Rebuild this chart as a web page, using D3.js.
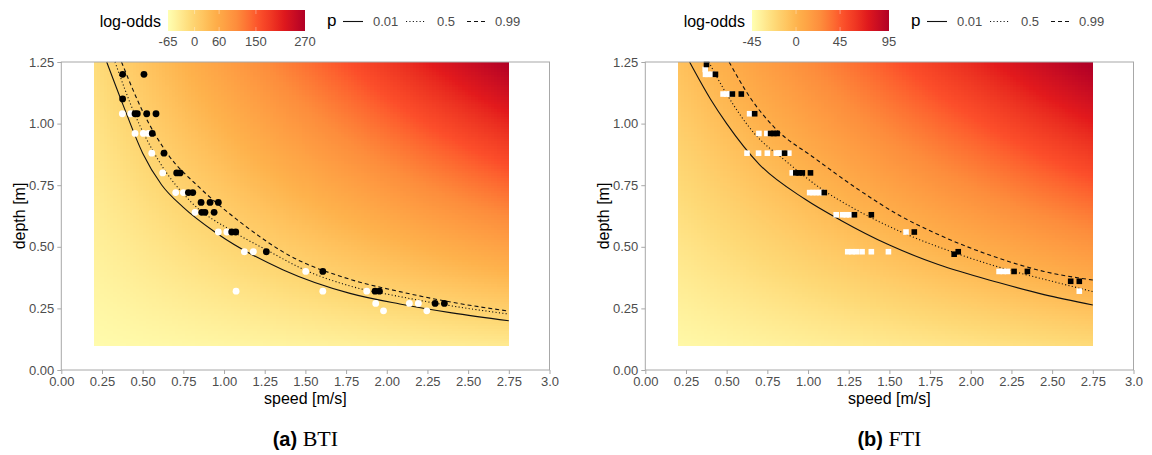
<!DOCTYPE html>
<meta charset="utf-8">
<script src="https://d3js.org/d3.v7.min.js"></script>
<style>
  body { margin: 0; background: #fff; }
  text { font-family: "Liberation Sans", Arial, sans-serif; }
</style>
<body>
<svg id="chart" width="1152" height="455"></svg>
<script>

// axis ticks
var xTicks = [0, 0.25, 0.5, 0.75, 1, 1.25, 1.5, 1.75, 2, 2.25, 2.5, 2.75, 3];
var xTickLabels = ["0.00", "0.25", "0.50", "0.75", "1.00", "1.25", "1.50", "1.75", "2.00", "2.25", "2.50", "2.75", "3.0"];
var yTicks = [0, 0.25, 0.5, 0.75, 1, 1.25];
var yTickLabels = ["0.00", "0.25", "0.50", "0.75", "1.00", "1.25"];

// fill palette (YlOrRd) and legend breaks
var fillColors = ["#ffffb2", "#fed976", "#feb24c", "#fd8d3c", "#fc4e2a", "#e31a1c", "#b10026"];
var btiBreaks = [-65, 0, 60, 150, 270];
var ftiBreaks = [-45, 0, 45, 95];
var pLabels = ["0.01", "0.5", "0.99"];

// fitted log-odds surface: b0 + b1*speed + b2*depth + b3*speed*depth
var btiCoef = [-63.5, 1.37, 21.4, 88];
var ftiCoef = [-44.6, 4.2, 22.9, 29.5];
var gridSpeed = [0.2, 2.75];
var gridDepth = [0.1, 1.25];

// probability contours [speed, depth]
var btiP01 = [[0.279, 1.25], [0.38, 1.075], [0.5, 0.88], [0.617, 0.751], [0.75, 0.66], [0.955, 0.555], [1.364, 0.406], [1.774, 0.311], [2.08, 0.268], [2.4, 0.232], [2.75, 0.2]];
var btiP50 = [[0.33, 1.25], [0.45, 1.04], [0.596, 0.852], [0.8, 0.68], [1.047, 0.565], [1.262, 0.487], [1.5, 0.405], [1.774, 0.341], [2.08, 0.298], [2.4, 0.26], [2.75, 0.227]];
var btiP99 = [[0.37, 1.25], [0.5, 1.05], [0.65, 0.88], [0.85, 0.74], [1.1, 0.6], [1.4, 0.465], [1.774, 0.368], [2.08, 0.318], [2.4, 0.275], [2.75, 0.239]];
var ftiP01 = [[0.272, 1.25], [0.4, 1.1], [0.5, 1.0], [0.7, 0.835], [0.98, 0.694], [1.2, 0.608], [1.5, 0.507], [1.8, 0.428], [2.17, 0.355], [2.45, 0.306], [2.75, 0.264]];
var ftiP50 = [[0.39, 1.25], [0.5, 1.12], [0.67, 0.96], [0.86, 0.85], [1.1, 0.727], [1.28, 0.656], [1.56, 0.564], [1.9, 0.476], [2.27, 0.399], [2.5, 0.36], [2.75, 0.318]];
var ftiP99 = [[0.515, 1.25], [0.65, 1.1], [0.8, 0.98], [1.04, 0.86], [1.315, 0.73], [1.56, 0.628], [1.8, 0.55], [2.17, 0.454], [2.45, 0.4], [2.75, 0.365]];

// observations [speed, depth]
var btiBlack = [[0.377, 1.2], [0.508, 1.2], [0.377, 1.1], [0.453, 1.04], [0.467, 1.04], [0.525, 1.04], [0.582, 1.04], [0.559, 0.96], [0.631, 0.88], [0.709, 0.8], [0.73, 0.8], [0.781, 0.72], [0.808, 0.72], [0.859, 0.68], [0.914, 0.68], [0.965, 0.68], [0.863, 0.64], [0.883, 0.64], [0.939, 0.64], [1.047, 0.56], [1.072, 0.56], [1.26, 0.48], [1.607, 0.4], [1.928, 0.32], [1.955, 0.32], [2.297, 0.27], [2.354, 0.27]];
var btiWhite = [[0.375, 1.04], [0.427, 1.04], [0.453, 0.96], [0.504, 0.96], [0.535, 0.96], [0.556, 0.88], [0.623, 0.8], [0.703, 0.72], [0.75, 0.72], [0.822, 0.64], [0.965, 0.56], [1.017, 0.56], [1.125, 0.48], [1.18, 0.48], [1.074, 0.32], [1.502, 0.4], [1.607, 0.32], [1.877, 0.32], [1.932, 0.27], [1.98, 0.24], [2.139, 0.27], [2.194, 0.27], [2.246, 0.24]];
var ftiBlack = [[0.376, 1.24], [0.431, 1.2], [0.535, 1.12], [0.59, 1.12], [0.672, 1.04], [0.77, 0.96], [0.79, 0.96], [0.81, 0.96], [0.856, 0.88], [0.925, 0.8], [0.945, 0.8], [0.965, 0.8], [1.015, 0.8], [1.1, 0.72], [1.285, 0.63], [1.389, 0.63], [1.653, 0.56], [1.898, 0.47], [1.923, 0.48], [2.266, 0.4], [2.348, 0.4], [2.614, 0.36], [2.667, 0.36]];
var ftiWhite = [[0.368, 1.22], [0.37, 1.2], [0.385, 1.2], [0.41, 1.2], [0.478, 1.12], [0.5, 1.12], [0.519, 1.12], [0.641, 1.04], [0.698, 0.96], [0.747, 0.96], [0.625, 0.88], [0.696, 0.88], [0.75, 0.88], [0.805, 0.88], [0.82, 0.88], [0.836, 0.88], [0.882, 0.88], [0.903, 0.8], [1.01, 0.72], [1.03, 0.72], [1.05, 0.72], [1.07, 0.72], [1.09, 0.72], [1.173, 0.63], [1.213, 0.63], [1.235, 0.63], [1.255, 0.63], [1.244, 0.48], [1.27, 0.48], [1.296, 0.48], [1.332, 0.48], [1.389, 0.48], [1.494, 0.48], [1.602, 0.56], [2.174, 0.4], [2.2, 0.4], [2.225, 0.4], [2.667, 0.32]];

var svg = d3.select("#chart");
var defs = svg.append("defs");

var plotLeft = 61.3, plotTop = 62, plotW = 488.2, plotH = 308;
var grey = "#a8a8a8", tickText = "#4d4d4d";

function logOdds(c, v, d) {
  return c[0] + c[1] * v + c[2] * d + c[3] * v * d;
}

function drawPanel(off, id, coef, breaks, curves, black, white, shape, letter, name) {
  var x = d3.scaleLinear().domain([0, 3]).range([plotLeft + off, plotLeft + off + plotW]);
  var y = d3.scaleLinear().domain([0, 1.25]).range([plotTop + plotH, plotTop]);
  var color = d3.scaleLinear()
      .domain(d3.range(fillColors.length).map(function(i) {
        return breaks[0] + i * (breaks[breaks.length - 1] - breaks[0]) / (fillColors.length - 1);
      }))
      .range(fillColors)
      .interpolate(d3.interpolateLab)
      .clamp(true);

  // raster of the fitted surface
  var dv = 0.02, dd = 0.01, cells = [];
  for (var v = gridSpeed[0]; v < gridSpeed[1] - 1e-9; v += dv) {
    for (var d = gridDepth[0]; d < gridDepth[1] - 1e-9; d += dd) {
      var v1 = Math.min(v + dv, gridSpeed[1]), d1 = Math.min(d + dd, gridDepth[1]);
      cells.push({v0: v, v1: v1, d0: d, d1: d1, z: logOdds(coef, (v + v1) / 2, (d + d1) / 2)});
    }
  }
  svg.append("g")
      .attr("shape-rendering", "crispEdges")
    .selectAll("rect")
    .data(cells)
    .join("rect")
      .attr("x", function(c) { return x(c.v0); })
      .attr("y", function(c) { return y(c.d1); })
      .attr("width", function(c) { return x(c.v1) - x(c.v0) + 0.6; })
      .attr("height", function(c) { return y(c.d0) - y(c.d1) + 0.6; })
      .attr("fill", function(c) { return color(c.z); });

  // contours
  var line = d3.line()
      .x(function(p) { return x(p[0]); })
      .y(function(p) { return y(p[1]); })
      .curve(d3.curveMonotoneX);
  var dashes = [null, "1.1,2.3", "4,3"];
  curves.forEach(function(c, i) {
    svg.append("path")
        .attr("d", line(c))
        .attr("fill", "none")
        .attr("stroke", "#111")
        .attr("stroke-width", 1.1)
        .attr("stroke-dasharray", dashes[i]);
  });

  // observations
  [[white, "#fff"], [black, "#000"]].forEach(function(s) {
    var g = svg.append("g").attr("fill", s[1]);
    if (shape === "circle") {
      g.selectAll("circle").data(s[0]).join("circle")
          .attr("cx", function(p) { return x(p[0]); })
          .attr("cy", function(p) { return y(p[1]); })
          .attr("r", 3.4);
    } else {
      g.selectAll("rect").data(s[0]).join("rect")
          .attr("x", function(p) { return x(p[0]) - 2.8; })
          .attr("y", function(p) { return y(p[1]) - 2.8; })
          .attr("width", 5.6)
          .attr("height", 5.6);
    }
  });

  // axes
  var xAxis = svg.append("g")
      .attr("transform", "translate(0," + (plotTop + plotH) + ")")
      .call(d3.axisBottom(x).tickValues(xTicks)
          .tickFormat(function(d, i) { return xTickLabels[i]; })
          .tickSize(4).tickSizeOuter(0));
  var yAxis = svg.append("g")
      .attr("transform", "translate(" + (plotLeft + off) + ",0)")
      .call(d3.axisLeft(y).tickValues(yTicks)
          .tickFormat(function(d, i) { return yTickLabels[i]; })
          .tickSize(4).tickSizeOuter(0));
  [xAxis, yAxis].forEach(function(a) {
    a.select(".domain").remove();
    a.selectAll("line").attr("stroke", grey);
    a.selectAll("text")
        .attr("fill", tickText)
        .style("font-size", "13px")
        .style("font-family", "Liberation Sans, Arial, sans-serif");
  });

  svg.append("rect")
      .attr("x", plotLeft + off)
      .attr("y", plotTop)
      .attr("width", plotW)
      .attr("height", plotH)
      .attr("fill", "none")
      .attr("stroke", grey)
      .attr("stroke-width", 1);

  svg.append("text")
      .attr("x", plotLeft + off + plotW / 2)
      .attr("y", 404)
      .attr("text-anchor", "middle")
      .style("font-size", "16px")
      .text("speed [m/s]");
  svg.append("text")
      .attr("transform", "translate(" + (25 + off) + "," + (plotTop + plotH / 2) + ") rotate(-90)")
      .attr("text-anchor", "middle")
      .style("font-size", "16px")
      .text("depth [m]");

  // caption
  var cap = svg.append("text")
      .attr("x", plotLeft + off + plotW / 2)
      .attr("y", 446)
      .attr("text-anchor", "middle");
  cap.append("tspan")
      .style("font-weight", "bold")
      .style("font-size", "20px")
      .text("(" + letter + ")");
  cap.append("tspan")
      .style("font-family", "Liberation Serif, Times New Roman, serif")
      .style("font-size", "22px")
      .text(" " + name);

  // legend: colour bar
  var barX = 168 + off, barW = 137, barY = 10, barH = 21;
  var grad = defs.append("linearGradient").attr("id", "grad" + id);
  d3.range(0, 1.0001, 0.05).forEach(function(t) {
    grad.append("stop")
        .attr("offset", t)
        .attr("stop-color", color(breaks[0] + t * (breaks[breaks.length - 1] - breaks[0])));
  });
  svg.append("text")
      .attr("x", barX - 7)
      .attr("y", 27)
      .attr("text-anchor", "end")
      .style("font-size", "16px")
      .text("log-odds");
  svg.append("rect")
      .attr("x", barX).attr("y", barY)
      .attr("width", barW).attr("height", barH)
      .attr("fill", "url(#grad" + id + ")");
  var bx = d3.scaleLinear().domain([breaks[0], breaks[breaks.length - 1]]).range([barX, barX + barW]);
  svg.append("g").selectAll("text").data(breaks).join("text")
      .attr("x", function(b) { return bx(b); })
      .attr("y", 46)
      .attr("text-anchor", "middle")
      .attr("fill", tickText)
      .style("font-size", "13px")
      .text(function(b) { return b; });
  svg.append("g").selectAll("line").data(breaks.slice(1, -1)).join("line")
      .attr("x1", function(b) { return bx(b); })
      .attr("x2", function(b) { return bx(b); })
      .attr("y1", barY).attr("y2", barY + barH)
      .attr("stroke", "#fff")
      .attr("stroke-opacity", 0.35)
      .attr("stroke-dasharray", "4," + (barH - 8) + ",4");

  // legend: p contours
  svg.append("text")
      .attr("x", 327 + off)
      .attr("y", 26)
      .style("font-size", "17px")
      .text("p");
  var keyX = [343, 406, 467], labX = [373, 437, 495];
  pLabels.forEach(function(l, i) {
    svg.append("line")
        .attr("x1", keyX[i] + off).attr("x2", keyX[i] + off + 20)
        .attr("y1", 21.5).attr("y2", 21.5)
        .attr("stroke", "#111")
        .attr("stroke-width", 1.1)
        .attr("stroke-dasharray", dashes[i]);
    svg.append("text")
        .attr("x", labX[i] + off)
        .attr("y", 26)
        .attr("fill", tickText)
        .style("font-size", "13px")
        .text(l);
  });
}

drawPanel(0, "a", btiCoef, btiBreaks, [btiP01, btiP50, btiP99], btiBlack, btiWhite, "circle", "a", "BTI");
drawPanel(584, "b", ftiCoef, ftiBreaks, [ftiP01, ftiP50, ftiP99], ftiBlack, ftiWhite, "square", "b", "FTI");

</script>
</body>
